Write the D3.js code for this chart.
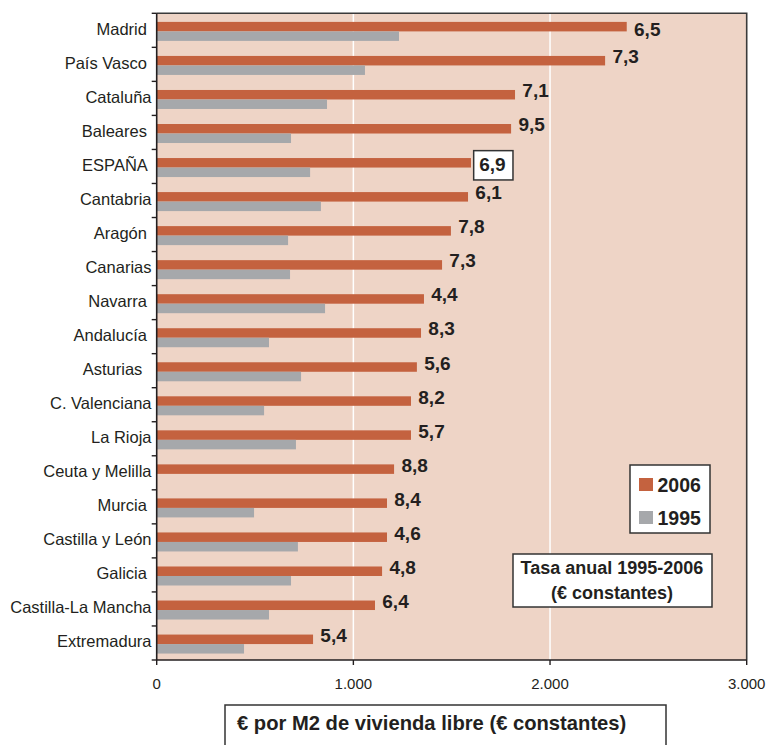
<!DOCTYPE html>
<html>
<head>
<meta charset="utf-8">
<script src="https://cdn.jsdelivr.net/npm/d3@7"></script>
<style>
  html, body { margin: 0; padding: 0; background: #ffffff; }
  svg { display: block; font-family: "Liberation Sans", Arial, Helvetica, sans-serif; }
</style>
</head>
<body>
<svg id="chart" width="768" height="745"></svg>
<script>
// ---- Data ----
const categories = ["Madrid ", "País Vasco ", "Cataluña", "Baleares ", "ESPAÑA ", "Cantabria", "Aragón ", "Canarias", "Navarra ", "Andalucía ", "Asturias  ", "C. Valenciana", "La Rioja", "Ceuta y Melilla", "Murcia ", "Castilla y León", "Galicia ", "Castilla-La Mancha", "Extremadura"];
const values2006 = [2390, 2280, 1822, 1802, 1598, 1583, 1496, 1451, 1359, 1344, 1323, 1293, 1293, 1207, 1171, 1171, 1146, 1110, 795];
const values1995 = [1232, 1059, 866, 683, 780, 835, 668, 678, 856, 571, 734, 546, 708, null, 495, 718, 683, 571, 444];
const rateLabels = ["6,5", "7,3", "7,1", "9,5", "6,9", "6,1", "7,8", "7,3", "4,4", "8,3", "5,6", "8,2", "5,7", "8,8", "8,4", "4,6", "4,8", "6,4", "5,4"];
const seriesNames = ["2006", "1995"];
const xTicks = [0, 1000, 2000, 3000];
const xTickLabels = ["0", "1.000", "2.000", "3.000"];
const highlighted = "ESPAÑA ";
const xTitle = "€ por M2 de vivienda libre (€ constantes)";
const noteLines = ["Tasa anual 1995-2006", "(€ constantes)"];

// ---- Style ----
const colors = { "2006": "#c4623f", "1995": "#a6a8ab" };
const plotBg = "#eed4c6";
const ink = "#231f20";

const svg = d3.select("#chart");
const L = 156.7, R = 746.7, T = 13.3, B = 660;

const x = d3.scaleLinear().domain([0, 3000]).range([L, R]);
const y = d3.scaleBand().domain(categories).range([T, B]);
const ys = d3.scaleBand().domain(seriesNames).range([8.6, 27.6]);

const rows = categories.map((c, i) => ({ c, i, v2006: values2006[i], v1995: values1995[i], rate: rateLabels[i] }));

// plot background
svg.append("rect").attr("x", L).attr("y", T).attr("width", R - L).attr("height", B - T).attr("fill", plotBg);

// gridlines
svg.append("g").selectAll("line").data(xTicks.filter(d => d > 0 && d < 3000)).join("line")
  .attr("x1", d => x(d)).attr("x2", d => x(d)).attr("y1", T).attr("y2", B)
  .attr("stroke", "#ffffff").attr("stroke-width", 1.5);

// bars 2006
svg.append("g").selectAll("rect").data(rows).join("rect")
  .attr("x", x(0)).attr("y", d => y(d.c) + ys("2006"))
  .attr("width", d => x(d.v2006) - x(0)).attr("height", ys.bandwidth())
  .attr("fill", colors["2006"]);

// bars 1995
svg.append("g").selectAll("rect").data(rows.filter(d => d.v1995 != null)).join("rect")
  .attr("x", x(0)).attr("y", d => y(d.c) + ys("1995"))
  .attr("width", d => x(d.v1995) - x(0)).attr("height", ys.bandwidth())
  .attr("fill", colors["1995"]);

// frame top/right
svg.append("path")
  .attr("d", `M${L},${T}H${R}V${B}`)
  .attr("fill", "none").attr("stroke", "#3a3a3a").attr("stroke-width", 1.6);

// y axis
const yAxisG = svg.append("g").attr("transform", `translate(${L},0)`);
yAxisG.append("line").attr("x1", 0).attr("x2", 0).attr("y1", T).attr("y2", B).attr("stroke", ink).attr("stroke-width", 1.6);
const bounds = categories.map(c => y(c)).concat([B]);
yAxisG.selectAll("line.tk").data(bounds).join("line").attr("class", "tk")
  .attr("x1", -5).attr("x2", 0).attr("y1", d => d).attr("y2", d => d)
  .attr("stroke", ink).attr("stroke-width", 1.4);
svg.append("g").selectAll("text").data(rows).join("text")
  .attr("x", 151.5).attr("y", d => y(d.c) + y.bandwidth() / 2 + 4.3)
  .attr("text-anchor", "end").attr("font-size", 16.5).attr("fill", ink)
  .style("white-space", "pre")
  .text(d => d.c);

// x axis
const xAxisG = svg.append("g").attr("transform", `translate(0,${B})`);
xAxisG.append("line").attr("x1", L).attr("x2", R).attr("stroke", ink).attr("stroke-width", 1.6);
xAxisG.selectAll("line.tk").data(xTicks).join("line").attr("class", "tk")
  .attr("x1", d => x(d)).attr("x2", d => x(d)).attr("y1", 0).attr("y2", 5)
  .attr("stroke", ink).attr("stroke-width", 1.4);
xAxisG.selectAll("text").data(xTicks).join("text")
  .attr("x", d => x(d)).attr("y", 28.5).attr("text-anchor", "middle")
  .attr("font-size", 15).attr("fill", ink)
  .text((d, i) => xTickLabels[i]);

// value labels (rates)
const lab = svg.append("g");
rows.forEach(d => {
  const bx = x(d.v2006);
  const cy = y(d.c) + ys("2006") + ys.bandwidth() / 2;
  const shift = d.i === 0 ? 2.8 : -4.3; // first label kept inside the frame
  if (d.c === highlighted) {
    lab.append("rect").attr("x", bx + 2.7).attr("y", y(d.c) + 1.2).attr("width", 39.3).attr("height", 29.3)
      .attr("fill", "#ffffff").attr("stroke", "#333").attr("stroke-width", 1.5);
    lab.append("text").attr("x", bx + 8.3).attr("y", cy + 1.8 + 6.8)
      .attr("font-size", 19).attr("font-weight", "bold").attr("fill", ink).text(d.rate);
  } else {
    lab.append("text").attr("x", bx + 7.3).attr("y", cy + shift + 6.8)
      .attr("font-size", 19).attr("font-weight", "bold").attr("fill", ink).text(d.rate);
  }
});

// legend
const lg = svg.append("g");
lg.append("rect").attr("x", 630).attr("y", 465).attr("width", 80).attr("height", 68)
  .attr("fill", "#ffffff").attr("stroke", "#333").attr("stroke-width", 1.5);
seriesNames.forEach((s, i) => {
  lg.append("rect").attr("x", 639).attr("y", 478 + i * 33).attr("width", 14).attr("height", 13).attr("fill", colors[s]);
  lg.append("text").attr("x", 657.5).attr("y", 491.7 + i * 33.3)
    .attr("font-size", 19.5).attr("font-weight", "bold").attr("fill", ink).text(s);
});

// note box
const nb = svg.append("g");
nb.append("rect").attr("x", 513).attr("y", 554).attr("width", 199).attr("height", 53)
  .attr("fill", "#ffffff").attr("stroke", "#333").attr("stroke-width", 1.5);
noteLines.forEach((t, i) => {
  nb.append("text").attr("x", 612).attr("y", 574 + i * 25).attr("text-anchor", "middle")
    .attr("font-size", 18).attr("font-weight", "bold").attr("fill", ink).text(t);
});

// x title box
const tb = svg.append("g");
tb.append("rect").attr("x", 225).attr("y", 705).attr("width", 441).attr("height", 60)
  .attr("fill", "#ffffff").attr("stroke", "#333").attr("stroke-width", 1.5);
tb.append("text").attr("x", 237).attr("y", 730)
  .attr("font-size", 20.2).attr("font-weight", "bold").attr("fill", ink).text(xTitle);
</script>
</body>
</html>
